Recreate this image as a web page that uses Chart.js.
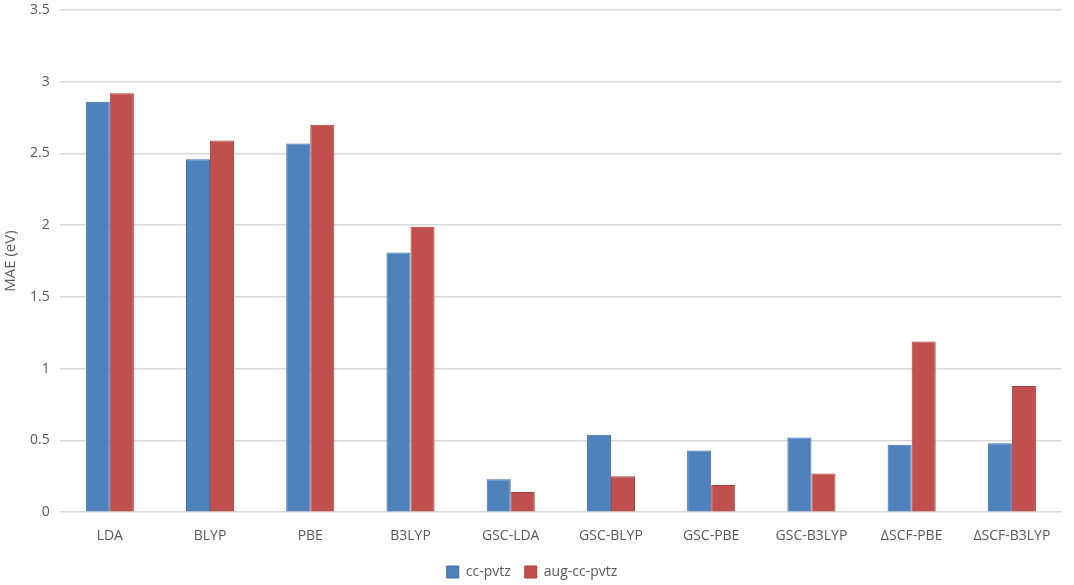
<!DOCTYPE html>
<html>
<head>
<meta charset="utf-8">
<script src="https://cdn.jsdelivr.net/npm/chart.js@4/dist/chart.umd.min.js"></script>
<style>
  html, body { margin: 0; padding: 0; background: #fff; }
  #wrap { width: 1074px; height: 585px; }
</style>
</head>
<body>
<div id="wrap"><canvas id="maeChart"></canvas></div>
<script>
/* Data */
const methods = ['LDA', 'BLYP', 'PBE', 'B3LYP', 'GSC-LDA', 'GSC-BLYP', 'GSC-PBE', 'GSC-B3LYP', 'ΔSCF-PBE', 'ΔSCF-B3LYP'];
const cc_pvtz = [2.86, 2.46, 2.57, 1.81, 0.23, 0.54, 0.43, 0.52, 0.47, 0.48];
const aug_cc_pvtz = [2.92, 2.59, 2.70, 1.99, 0.14, 0.25, 0.19, 0.27, 1.19, 0.88];

Chart.defaults.font.family = '"Open Sans", "Noto Sans", sans-serif';
Chart.defaults.font.size = 14;
Chart.defaults.color = '#595959';

/* Create chart */
const my_chart = new Chart('maeChart', {
    type: 'bar',
    data: {
        labels: methods,
        datasets: [
            {
                label: 'cc-pvtz',
                data: cc_pvtz,
                backgroundColor: '#4F81BD',
                borderColor: '#3C6DA8',
                borderWidth: 1,
            },
            {
                label: 'aug-cc-pvtz',
                data: aug_cc_pvtz,
                backgroundColor: '#C0504D',
                borderColor: '#AE3E3B',
                borderWidth: 1,
            },
        ]
    },
    options: {
        responsive: true,
        maintainAspectRatio: false,
        animation: false,
        datasets: {
            bar: { barPercentage: 1, categoryPercentage: 0.48 }
        },
        layout: { autoPadding: false, padding: { top: 10, right: 12, left: 2, bottom: -4 } },
        scales: {
            x: {
                grid: { display: false },
                border: { display: false },
                ticks: { padding: 7 },
            },
            y: {
                min: 0,
                max: 3.5,
                // drop the label half-height padding so 3.5 sits near the top edge
                afterFit: scale => { scale.paddingTop = 0; scale.paddingBottom = 0; },
                ticks: {
                    stepSize: 0.5,
                    padding: 10,
                    callback: v => String(Number(v.toFixed(1)))
                },
                grid: { color: '#D9D9D9', lineWidth: 1.5, drawTicks: false },
                border: { display: false },
                title: {
                    display: true,
                    text: 'MAE (eV)',
                    font: { size: 15 },
                    padding: { top: 0, bottom: 0 },
                }
            }
        },
        plugins: {
            legend: {
                position: 'bottom',
                labels: { boxWidth: 12, boxHeight: 12, padding: 14 }
            },
            tooltip: { enabled: false }
        }
    }
});
</script>
</body>
</html>
